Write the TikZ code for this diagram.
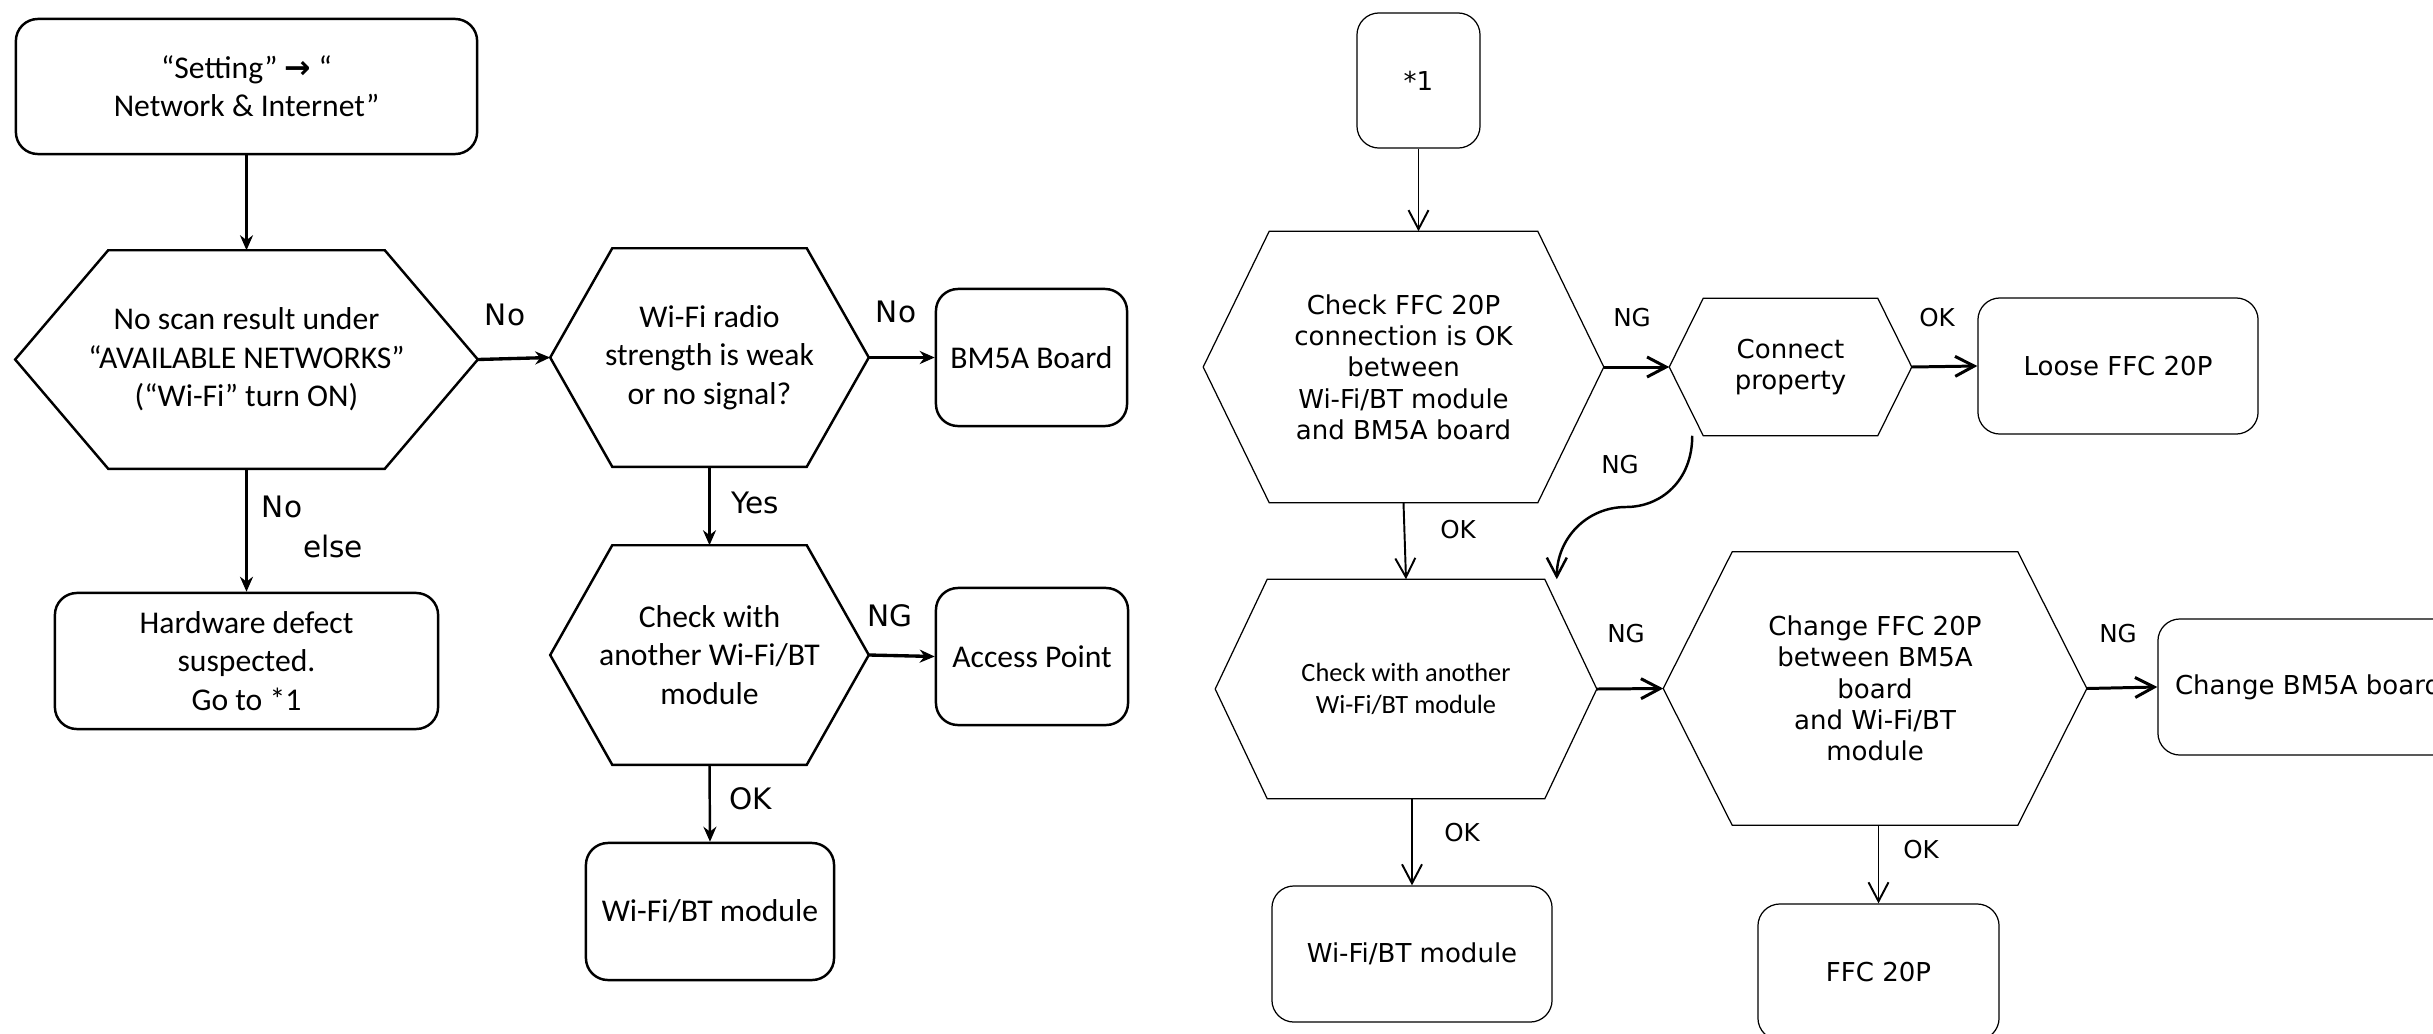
\documentclass[tikz,border=0pt]{standalone}
\usepackage{fontspec}
\setmainfont{Carlito}
\newfontfamily\verd{DejaVu Sans}
\usetikzlibrary{arrows.meta}

\tikzset{
  box/.style={draw, rounded corners=0.22cm, align=center, inner sep=0pt, line width=0.7pt},
  rtext/.style={font=\verd\fontsize{7.4}{8.9}\selectfont},
  rbox/.style={box, rtext, line width=0.35pt},
  hexa/.style={align=center, inner sep=0pt},
  flow/.style={line width=0.7pt, -{Stealth[length=0.15cm,width=0.13cm]}},
  flowh/.style={flow, line width=0.95pt},
  rflow/.style={line width=0.55pt, -{Straight Barb[length=0.19cm,width=0.2cm]}},
  rflowh/.style={rflow, line width=0.85pt},
  lab/.style={font=\verd\fontsize{8.4}{10}\selectfont},
  rlab/.style={font=\verd\fontsize{7}{8}\selectfont},
}

% hexagon outline around a node: name, inset of slanted sides, line width
\newcommand\hexframe[3]{%
  \draw[line width=#3] (#1.west) -- ([xshift=#2]#1.north west) -- ([xshift=-#2]#1.north east)
    -- (#1.east) -- ([xshift=-#2]#1.south east) -- ([xshift=#2]#1.south west) -- cycle;}

\begin{document}
\begin{tikzpicture}[x=0.01cm, y=-0.01cm, font=\fontsize{9}{10.9}\selectfont]
  \useasboundingbox (0,0) rectangle (2433,1033);

  % first chart
  \node[box, minimum width=4.61cm, minimum height=1.35cm] (set) at (246.5,86.5)
    {“Setting” {\verd\textbf{→}} “\\Network \& Internet”};
  \node[hexa, minimum width=4.61cm, minimum height=2.17cm] (scan) at (246.5,359.5)
    {No scan result under\\“AVAILABLE NETWORKS”\\(“Wi-Fi” turn ON)};
  \hexframe{scan}{0.93cm}{0.7pt}
  \node[box, minimum width=3.83cm, minimum height=1.36cm] (hw) at (246.5,661)
    {Hardware defect\\suspected.\\Go to *1};
  \node[hexa, minimum width=3.17cm, minimum height=2.17cm] (radio) at (709.5,357.5)
    {Wi-Fi radio\\strength is weak\\or no signal?};
  \hexframe{radio}{0.62cm}{0.7pt}
  \node[box, minimum width=1.91cm, minimum height=1.37cm] (board) at (1031.5,357.5) {BM5A Board};
  \node[hexa, minimum width=3.17cm, minimum height=2.18cm] (swap) at (709.5,655)
    {Check with\\another Wi-Fi/BT\\module};
  \hexframe{swap}{0.62cm}{0.7pt}
  \node[box, minimum width=1.92cm, minimum height=1.37cm] (ap) at (1032,656.5) {Access Point};
  \node[box, minimum width=2.48cm, minimum height=1.37cm] (wifi) at (710,911.5) {Wi-Fi/BT module};

  \draw[flow] (set.south) -- (scan.north);
  \draw[flowh] (scan.east) -- (radio.west);
  \draw[flowh] (radio.east) -- (board.west);
  \draw[flow] (scan.south) -- (hw.north);
  \draw[flow] (radio.south) -- (swap.north);
  \draw[flowh] (swap.east) -- (ap.west);
  \draw[flow] (swap.south) -- (wifi.north);

  \node[lab] (no1) at (505,315) {No};
  \node[lab] (no2) at (896,312) {No};
  \node[lab] (no3) at (282,507) {No};
  \node[lab] (else) at (333,546) {else};
  \node[lab] (yes) at (755,503) {Yes};
  \node[lab] (ng1) at (890,616) {NG};
  \node[lab] (ok1) at (751,799) {OK};

  % second chart (*1)
  \node[rbox, minimum width=1.23cm, minimum height=1.35cm] (star) at (1418.5,80.5) {*1};
  \node[hexa, rtext, minimum width=3.99cm, minimum height=2.70cm] (ffcchk) at (1403.5,367)
    {Check FFC 20P\\connection is OK\\between\\Wi-Fi/BT module\\and BM5A board};
  \hexframe{ffcchk}{0.66cm}{0.35pt}
  \node[hexa, rtext, minimum width=2.41cm, minimum height=1.36cm] (reconn) at (1790.5,367)
    {Connect\\property};
  \hexframe{reconn}{0.34cm}{0.35pt}
  \node[rbox, minimum width=2.80cm, minimum height=1.36cm] (loose) at (2118,366) {Loose FFC 20P};
  \node[hexa, font=\fontsize{7.5}{9.1}\selectfont, minimum width=3.80cm, minimum height=2.18cm] (swapb) at (1406,689)
    {Check with another\\Wi-Fi/BT module};
  \hexframe{swapb}{0.52cm}{0.35pt}
  \node[hexa, rtext, minimum width=4.22cm, minimum height=2.72cm] (ffcchg) at (1875,688.5)
    {Change FFC 20P\\between BM5A\\board\\and Wi-Fi/BT\\module};
  \hexframe{ffcchg}{0.69cm}{0.35pt}
  \node[rbox, minimum width=3.00cm, minimum height=1.36cm] (newboard) at (2308,687) {Change BM5A board};
  \node[rbox, minimum width=2.80cm, minimum height=1.36cm] (wifib) at (1412,954) {Wi-Fi/BT module};
  \node[rbox, minimum width=2.41cm, minimum height=1.36cm] (ffc) at (1878.5,972) {FFC 20P};

  \draw[rflow] (star.south) -- (star.south |- ffcchk.north);
  \draw[rflowh] (ffcchk.east) -- (reconn.west);
  \draw[rflowh] (reconn.east) -- (loose.west);
  \draw[rflow] (ffcchk.south) -- (swapb.north);
  \coordinate (bend) at (1626,507);
  \draw[rflow, line width=0.7pt] ([xshift=0.23cm]reconn.south west) .. controls +(0,45) and +(35,0) .. (bend)
    .. controls +(-40,0) and +(0,-40) .. ([xshift=-0.4cm]swapb.north east);
  \draw[rflowh] (swapb.east) -- (ffcchg.west);
  \draw[rflowh] (ffcchg.east) -- (newboard.west);
  \draw[rflow] (wifib.north |- swapb.south) -- (wifib.north);
  \draw[rflow] (ffc.north |- ffcchg.south) -- (ffc.north);

  \node[rlab] (ng2) at (1632,318) {NG};
  \node[rlab] (ok2) at (1937,318) {OK};
  \node[rlab] (ng3) at (1620,465) {NG};
  \node[rlab] (ok3) at (1458,530) {OK};
  \node[rlab] (ng4) at (1626,634) {NG};
  \node[rlab] (ng5) at (2118,634) {NG};
  \node[rlab] (ok4) at (1462,833) {OK};
  \node[rlab] (ok5) at (1921,850) {OK};
\end{tikzpicture}
\end{document}
